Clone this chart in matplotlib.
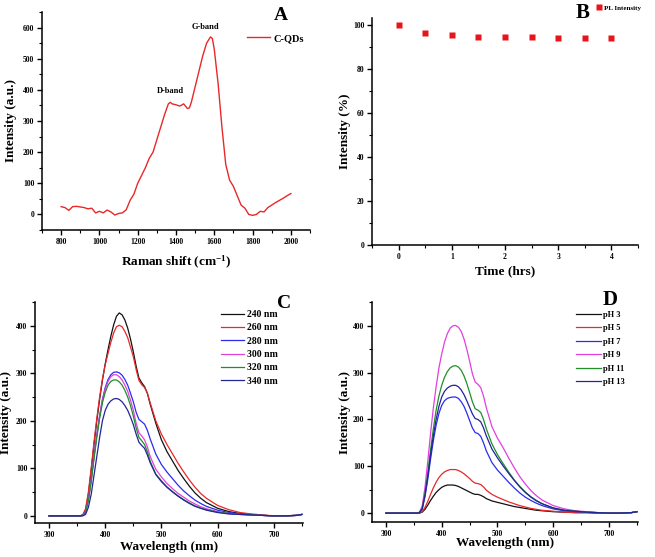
import matplotlib
matplotlib.use("Agg")
import matplotlib.pyplot as plt
from matplotlib.ticker import MultipleLocator
from matplotlib.lines import Line2D

plt.rcParams['font.family'] = ['Liberation Serif', 'DejaVu Serif']
plt.rcParams['font.weight'] = 'bold'
plt.rcParams['mathtext.fontset'] = 'custom'
plt.rcParams['mathtext.rm'] = 'Liberation Serif:bold'
plt.rcParams['mathtext.bf'] = 'Liberation Serif:bold'
plt.rcParams['mathtext.it'] = 'Liberation Serif:bold'

# ---------------- Panel A: Raman ----------------
raman_shift = [800, 820, 840, 860, 880, 900, 920, 940, 960, 980, 1000, 1020, 1040, 1060,
               1080, 1100, 1120, 1140, 1160, 1180, 1200, 1220, 1240, 1260, 1280, 1300,
               1320, 1340, 1360, 1370, 1380, 1400, 1420, 1440, 1460, 1470, 1480, 1500,
               1520, 1540, 1560, 1580, 1590, 1600, 1620, 1640, 1660, 1680, 1700, 1720,
               1740, 1760, 1780, 1800, 1820, 1840, 1860, 1880, 1900, 1920, 1940, 1960,
               1980, 2000]
raman_int = [25, 22, 13, 25, 26, 24, 22, 18, 20, 5, 10, 5, 14, 8,
             -2, 3, 5, 15, 45, 65, 100, 125, 150, 180, 200, 240,
             280, 320, 355, 360, 355, 352, 348, 355, 340, 342, 360, 410,
             460, 510, 550, 570, 565, 530, 420, 280, 160, 110, 90, 60,
             30, 20, 0, -3, 0, 10, 8, 22, 30, 38, 45, 52,
             60, 67]

# ---------------- Panel B: stability ----------------
time_hrs = [0, 0.5, 1, 1.5, 2, 2.5, 3, 3.5, 4]
pl_intensity = [99.7, 96.0, 95.4, 94.2, 94.2, 94.6, 94.1, 94.0, 94.1]

# ---------------- Panels C & D: PL spectra ----------------
wavelength = [300, 330, 355, 360, 365, 370, 375, 380, 385, 390, 395, 400, 405, 410, 415,
              420, 425, 430, 435, 440, 445, 450, 455, 460, 465, 470, 475, 480, 490, 500,
              510, 520, 530, 540, 550, 560, 570, 580, 600, 620, 640, 660, 680, 700, 720,
              740, 750]

exc_labels = ['240 nm', '260 nm', '280 nm', '300 nm', '320 nm', '340 nm']
exc_240 = [0, 0, 0, 2, 12, 45, 95, 150, 200, 245, 285, 320, 350, 378, 402,
           420, 427, 423, 412, 395, 372, 345, 315, 290, 280, 272, 258, 235, 195, 160,
           135, 115, 95, 78, 62, 48, 37, 28, 16, 9, 5, 3, 1, 0, 0, 1, 3]
exc_260 = [0, 0, 0, 2, 15, 50, 100, 155, 205, 250, 288, 318, 342, 365, 385,
           398, 401, 398, 388, 375, 355, 335, 308, 285, 276, 270, 258, 238, 200, 172,
           150, 130, 110, 92, 75, 60, 47, 37, 22, 13, 7, 4, 2, 0, 0, 1, 3]
exc_280 = [0, 0, 0, 1, 8, 35, 75, 125, 170, 210, 245, 270, 287, 297, 302,
           303, 301, 296, 287, 275, 258, 240, 218, 203, 198, 193, 180, 162, 130, 108,
           92, 78, 64, 52, 42, 33, 26, 20, 12, 7, 4, 2, 1, 0, 0, 1, 3]
exc_300 = [0, 0, 0, 1, 8, 35, 75, 125, 170, 210, 243, 267, 283, 293, 297,
           297, 293, 286, 275, 262, 243, 222, 195, 175, 168, 160, 145, 125, 98, 82,
           68, 57, 47, 39, 31, 25, 19, 15, 9, 5, 3, 2, 1, 0, 0, 1, 3]
exc_320 = [0, 0, 0, 1, 7, 32, 72, 120, 165, 205, 238, 260, 275, 283, 286,
           286, 282, 275, 264, 250, 232, 210, 185, 165, 158, 150, 135, 115, 88, 74,
           61, 51, 42, 34, 27, 21, 16, 13, 8, 5, 3, 2, 1, 0, 0, 1, 3]
exc_340 = [0, 0, 0, 0, 3, 18, 45, 85, 125, 165, 200, 222, 235, 242, 246,
           247, 245, 240, 232, 222, 208, 192, 172, 155, 148, 142, 128, 112, 87, 72,
           60, 50, 41, 33, 26, 20, 16, 12, 7, 4, 3, 2, 1, 0, 0, 1, 3]

ph_labels = ['pH 3', 'pH 5', 'pH 7', 'pH 9', 'pH 11', 'pH 13']
ph_3 = [0, 0, 0, 0, 2, 8, 17, 27, 36, 44, 50, 55, 58, 60, 60,
        60, 59, 57, 54, 51, 48, 45, 42, 40, 40, 38, 35, 31, 26, 23,
        20, 17, 14, 12, 10, 8, 6, 5, 3, 2, 1, 1, 0, 0, 0, 1, 3]
ph_5 = [0, 0, 0, 0, 3, 12, 25, 40, 54, 66, 76, 83, 88, 91, 93,
        93, 93, 91, 88, 84, 79, 74, 68, 64, 63, 61, 56, 49, 40, 34,
        29, 24, 20, 16, 13, 10, 8, 6, 4, 2, 1, 1, 0, 0, 0, 1, 3]
ph_7 = [0, 0, 0, 1, 8, 35, 72, 115, 155, 188, 213, 230, 240, 245, 247,
        248, 248, 245, 238, 228, 214, 198, 182, 172, 170, 164, 150, 133, 108, 92,
        79, 66, 54, 43, 34, 27, 21, 16, 9, 5, 3, 2, 1, 0, 0, 1, 3]
ph_9 = [0, 0, 0, 2, 15, 55, 110, 170, 225, 270, 310, 340, 365, 383, 395,
        400, 401, 397, 388, 372, 350, 325, 298, 280, 275, 268, 250, 225, 185, 160,
        140, 118, 97, 78, 62, 48, 37, 28, 16, 9, 5, 3, 1, 0, 0, 1, 3]
ph_11 = [0, 0, 0, 1, 10, 42, 85, 135, 180, 220, 250, 273, 290, 302, 310,
         314, 315, 312, 305, 293, 277, 258, 238, 223, 220, 215, 200, 180, 148, 125,
         106, 88, 71, 57, 45, 35, 27, 20, 11, 6, 4, 2, 1, 0, 0, 1, 3]
ph_13 = [0, 0, 0, 1, 9, 38, 78, 125, 165, 200, 228, 248, 260, 267, 271,
         273, 273, 270, 263, 253, 240, 226, 212, 202, 200, 195, 182, 165, 137, 118,
         101, 85, 70, 56, 44, 34, 26, 20, 11, 6, 4, 2, 1, 0, 0, 1, 3]

line_colors = ['#111111', '#e8282a', '#2b2bf0', '#e040e0', '#1f8f2a', '#23239a']

W, H = 655, 557
fig = plt.figure(figsize=(W / 100, H / 100), dpi=100)
LABEL_FS = 9.5


def px_axes(left, top, right, bottom):
    return fig.add_axes([left / W, 1 - bottom / H, (right - left) / W, (bottom - top) / H])


def style(ax):
    for s in ['top', 'right']:
        ax.spines[s].set_visible(False)
    for s in ['left', 'bottom']:
        ax.spines[s].set_linewidth(1.1)
    ax.tick_params(which='major', direction='out', length=3.5, width=1.0,
                   labelsize=5.5, pad=2.0)
    ax.tick_params(which='minor', direction='out', length=2, width=0.8)
    for lab in ax.get_xticklabels() + ax.get_yticklabels():
        lab.set_fontweight('bold')


# ---- A ----
axA = px_axes(42, 12, 310, 230)
axA.plot(raman_shift, raman_int, color='#e8282a', lw=1.0, label='C-QDs')
axA.set_xlim(700, 2100)
axA.set_ylim(-50, 650)
axA.xaxis.set_major_locator(MultipleLocator(200))
axA.xaxis.set_minor_locator(MultipleLocator(100))
axA.yaxis.set_major_locator(MultipleLocator(100))
axA.yaxis.set_minor_locator(MultipleLocator(50))
style(axA)
axA.set_xlabel('Raman shift (cm$^{-1}$)', fontsize=LABEL_FS, fontweight='bold')
axA.set_ylabel('Intensity (a.u.)', fontsize=LABEL_FS, fontweight='bold')
axA.xaxis.set_label_coords(0.5, -0.11)
axA.yaxis.set_label_coords(-0.093, 0.5)
axA.text(1369, 385, 'D-band', fontsize=6, fontweight='bold', ha='center', va='bottom')
axA.text(1552, 590, 'G-band', fontsize=6, fontweight='bold', ha='center', va='bottom')
axA.legend(loc='upper right', bbox_to_anchor=(1.0, 0.93), frameon=False, fontsize=7.5,
           handlelength=2.2, handletextpad=0.3, borderaxespad=0.2)
fig.text(281 / W, 1 - 15 / H, 'A', fontsize=14, fontweight='bold', ha='center', va='center')

# ---- B ----
axB = px_axes(372, 18, 638, 245)
axB.plot(time_hrs, pl_intensity, 's', color='#e8141c', ms=4, mec='none', label='PL Intensity')
axB.set_xlim(-0.5, 4.5)
axB.set_ylim(0, 103)
axB.xaxis.set_major_locator(MultipleLocator(1))
axB.xaxis.set_minor_locator(MultipleLocator(0.5))
axB.yaxis.set_major_locator(MultipleLocator(20))
axB.yaxis.set_minor_locator(MultipleLocator(10))
style(axB)
axB.set_xlabel('Time (hrs)', fontsize=LABEL_FS, fontweight='bold')
axB.set_ylabel('Intensity (%)', fontsize=LABEL_FS, fontweight='bold')
axB.xaxis.set_label_coords(0.5, -0.09)
axB.yaxis.set_label_coords(-0.079, 0.5)
fig.legend(handles=[Line2D([], [], ls='none', marker='s', color='#e8141c', ms=4, mec='none')],
           labels=['PL Intensity'], loc='center left', bbox_to_anchor=(596 / W, 1 - 8 / H),
           frameon=False, fontsize=5, handletextpad=0.2, borderaxespad=0, borderpad=0,
           handlelength=1.0)
fig.text(583 / W, 1 - 13 / H, 'B', fontsize=15, fontweight='bold', ha='center', va='center')

# ---- C ----
axC = px_axes(35, 302, 303, 523)
for lab, ys, c in zip(exc_labels, [exc_240, exc_260, exc_280, exc_300, exc_320, exc_340], line_colors):
    axC.plot(wavelength, ys, color=c, lw=0.9, label=lab)
axC.set_xlim(275, 752)
axC.set_ylim(-15, 450)
axC.xaxis.set_major_locator(MultipleLocator(100))
axC.xaxis.set_minor_locator(MultipleLocator(50))
axC.yaxis.set_major_locator(MultipleLocator(100))
axC.yaxis.set_minor_locator(MultipleLocator(50))
style(axC)
axC.set_xlabel('Wavelength (nm)', fontsize=LABEL_FS, fontweight='bold')
axC.set_ylabel('Intensity (a.u.)', fontsize=LABEL_FS, fontweight='bold')
axC.xaxis.set_label_coords(0.5, -0.08)
axC.yaxis.set_label_coords(-0.086, 0.5)
axC.legend(loc='upper left', bbox_to_anchor=((221 - 35) / 268, (523 - 310) / 221), frameon=False,
           fontsize=7, handlelength=2.4, handletextpad=0.3, labelspacing=0.45,
           borderaxespad=0, borderpad=0)
fig.text(284 / W, 1 - 303 / H, 'C', fontsize=14, fontweight='bold', ha='center', va='center')

# ---- D ----
axD = px_axes(372, 302, 638, 522)
for lab, ys, c in zip(ph_labels, [ph_3, ph_5, ph_7, ph_9, ph_11, ph_13], line_colors):
    axD.plot(wavelength, ys, color=c, lw=0.9, label=lab)
axD.set_xlim(275, 752)
axD.set_ylim(-19, 451)
axD.xaxis.set_major_locator(MultipleLocator(100))
axD.xaxis.set_minor_locator(MultipleLocator(50))
axD.yaxis.set_major_locator(MultipleLocator(100))
axD.yaxis.set_minor_locator(MultipleLocator(50))
style(axD)
axD.set_xlabel('Wavelength (nm)', fontsize=LABEL_FS, fontweight='bold')
axD.set_ylabel('Intensity (a.u.)', fontsize=LABEL_FS, fontweight='bold')
axD.xaxis.set_label_coords(0.5, -0.07)
axD.yaxis.set_label_coords(-0.079, 0.5)
axD.legend(loc='upper left', bbox_to_anchor=((576 - 372) / 266, (522 - 311) / 220), frameon=False,
           fontsize=6, handlelength=3.0, handletextpad=0.2, labelspacing=0.65,
           borderaxespad=0, borderpad=0)
fig.text(610 / W, 1 - 300 / H, 'D', fontsize=15, fontweight='bold', ha='center', va='center')

fig.savefig('out.png', dpi=100, facecolor='white')
